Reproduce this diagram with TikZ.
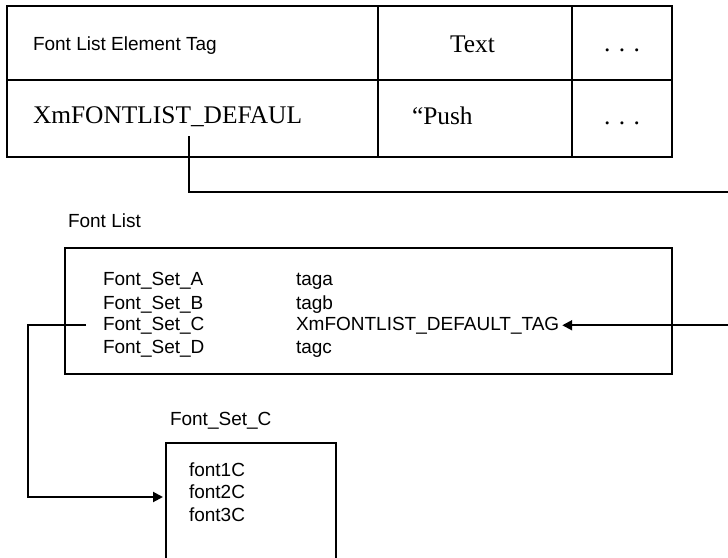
\documentclass[tikz,border=0pt]{standalone}
\usepackage{fontspec}
\setmainfont{Liberation Serif}
\setsansfont{Liberation Sans}
\usetikzlibrary{arrows.meta}

\begin{document}
\begin{tikzpicture}[x=1pt,y=-1pt,->,>={Triangle[length=10pt,width=10pt]},line width=2pt]
  \tikzstyle{lbl}=[inner sep=0pt,anchor=base west,font=\sffamily\fontsize{19}{22}\selectfont]
  \tikzstyle{serif}=[inner sep=0pt,anchor=base west,font=\rmfamily\fontsize{25.4}{30}\selectfont]
  \tikzstyle{cell}=[draw,-,line width=2pt]
  \useasboundingbox (0,0) rectangle (728,557);

  % element table
  \draw[cell] (7,6) rectangle (672,157);
  \draw[cell] (7,80) -- (672,80);
  \draw[cell] (378,6) -- (378,157);
  \draw[cell] (572,6) -- (572,157);

  \node[lbl] (elemHead) at (32,50) {Font List Element Tag};
  \node[serif] (textHead) at (449,52) {Text};
  \node[serif,anchor=base] (moreHead) at (622,51) {. . .};
  \node[serif] (defTag) at (32,123) {XmFONTLIST\_DEFAUL};
  \node[serif] (push) at (411,124) {“Push};
  \node[serif,anchor=base] (moreRow) at (622,124) {. . .};

  % font list
  \node[lbl] (listTitle) at (67,227) {Font List};
  \draw[cell] (65,248) rectangle (672,374);
  \node[lbl] (setA) at (102,285) {Font\_Set\_A};
  \node[lbl] (setB) at (102,309) {Font\_Set\_B};
  \node[lbl] (setC) at (102,330) {Font\_Set\_C};
  \node[lbl] (setD) at (102,353) {Font\_Set\_D};
  \node[lbl] (tagA) at (295,285) {taga};
  \node[lbl] (tagB) at (295,309) {tagb};
  \node[lbl] (dfltTag) at (295,330) {XmFONTLIST\_DEFAULT\_TAG};
  \node[lbl] (tagC) at (295,353) {tagc};

  % font set C
  \node[lbl] (setTitle) at (169,425) {Font\_Set\_C};
  \draw[cell] (166,560) -- (166,443) -- (336,443) -- (336,560);
  \node[lbl] (fontA) at (188,476) {font1C};
  \node[lbl] (fontB) at (188,498) {font2C};
  \node[lbl] (fontC) at (188,521) {font3C};

  \coordinate (src) at (189,136);
  \coordinate (farRight) at (732,192);
  \coordinate (leftBend) at (28,497);
  \coordinate (boxIn) at (163,497);

  \draw[shorten >=2pt] (src) |- (farRight) |- (dfltTag.east);
  \draw ([xshift=-16pt]setC.west) -| (leftBend) -- (boxIn);
\end{tikzpicture}
\end{document}
